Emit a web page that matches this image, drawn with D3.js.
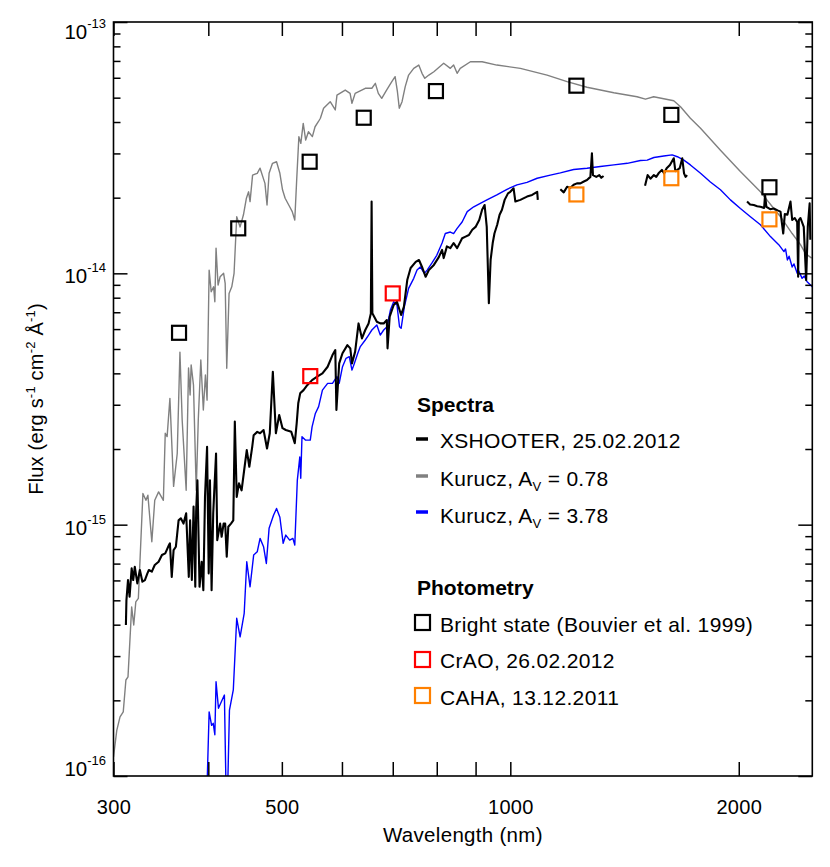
<!DOCTYPE html>
<html><head><meta charset="utf-8">
<script src="https://cdn.jsdelivr.net/npm/d3@7"></script>
<style>
body{margin:0;background:#fff}
svg text{font-family:"Liberation Sans",Arial,Helvetica,sans-serif;fill:#000}
</style>
</head><body>
<svg id="chart" width="830" height="867"></svg>
<script>
// ---------------- data ----------------
const xTickValues = [300,400,500,600,700,800,900,1000,2000];
const xTickLabels = {300:"300",500:"500",1000:"1000",2000:"2000"};
const yMajorTicks = [1e-16,1e-15,1e-14,1e-13];
const yMajorExponents = ["-16","-15","-14","-13"];
const yMinorTicks = [2e-16,3e-16,4e-16,5e-16,6e-16,7e-16,8e-16,9e-16,
                     2e-15,3e-15,4e-15,5e-15,6e-15,7e-15,8e-15,9e-15,
                     2e-14,3e-14,4e-14,5e-14,6e-14,7e-14,8e-14,9e-14];

// Kurucz model, A_V = 0.78 (wavelength nm, flux erg/s/cm2/A)
const kurucz078 = [[300,1.19e-16],[303,1.52e-16],[306,1.72e-16],[309,1.80e-16],[311.5,2.41e-16],[313.5,2.48e-16],[317,4.71e-16],[319,3.99e-16],[321,4.93e-16],[323.5,5.09e-16],[328,1.33e-15],[331,1.25e-15],[333,1.31e-15],[337,8.55e-16],[340,1.25e-15],[344,1.35e-15],[349,1.25e-15],[351,2.31e-15],[353,2.24e-15],[356,3.18e-15],[360,1.42e-15],[364,1.92e-15],[367,4.86e-15],[369.5,2.61e-15],[374,1.37e-15],[376.7,4.20e-15],[378.5,3.28e-15],[379.7,4.32e-15],[382.4,3.59e-15],[385.6,1.37e-15],[388,2.61e-15],[391,4.52e-15],[394,2.86e-15],[396.5,3.94e-15],[398.5,3.13e-15],[401,1.03e-14],[403.5,8.45e-15],[406.5,8.84e-15],[408,7.71e-15],[409.5,1.26e-14],[412,8.98e-15],[414.6,9.69e-15],[419,1.0e-14],[421,9.12e-15],[423,4.19e-15],[426,8.32e-15],[429.5,8.84e-15],[432.5,1.0e-14],[436,1.68e-14],[440.5,1.53e-14],[445,1.71e-14],[449,1.99e-14],[452,2.11e-14],[454,1.93e-14],[457.5,2.46e-14],[464,2.50e-14],[468,2.62e-14],[475,2.28e-14],[478,1.87e-14],[481,2.50e-14],[486,2.74e-14],[492,2.78e-14],[497,2.50e-14],[501,2.15e-14],[505,1.99e-14],[512,1.84e-14],[516,1.76e-14],[520,1.63e-14],[523,2.35e-14],[526.5,3.50e-14],[529.6,3.29e-14],[533.5,3.95e-14],[537.5,3.39e-14],[542,3.66e-14],[548.5,3.50e-14],[553,3.83e-14],[558.5,4.01e-14],[562,4.14e-14],[567.5,4.54e-14],[579,4.82e-14],[588,4.47e-14],[591,5.12e-14],[606,5.36e-14],[615,5.20e-14],[618.5,4.75e-14],[624.5,5.20e-14],[644,5.45e-14],[657,5.45e-14],[664,5.70e-14],[670,5.20e-14],[677,4.97e-14],[687,5.36e-14],[698,5.79e-14],[705,6.06e-14],[710,5.28e-14],[714,4.54e-14],[720,4.82e-14],[727,5.53e-14],[734.5,6.15e-14],[746,6.54e-14],[757.5,6.74e-14],[765,6.25e-14],[771.5,5.97e-14],[781,6.15e-14],[793,6.34e-14],[817,6.85e-14],[833.6,6.54e-14],[842,6.74e-14],[851,6.25e-14],[859,6.54e-14],[886,6.95e-14],[918,6.95e-14],[960,6.74e-14],[1031,6.54e-14],[1118,6.15e-14],[1188,5.79e-14],[1262,5.50e-14],[1369,5.23e-14],[1469,5.04e-14],[1507,4.93e-14],[1545,5.04e-14],[1642,4.86e-14],[1676,4.60e-14],[1727,4.14e-14],[1781,3.78e-14],[1892,3.09e-14],[2010,2.54e-14],[2136,2.11e-14],[2270,1.68e-14],[2352,1.44e-14],[2412,1.30e-14],[2448,1.20e-14],[2495,1.15e-14]];

// Kurucz model, A_V = 3.78
const kurucz378 = [[397,6.1e-17],[401,1.80e-16],[404,1.59e-16],[406,1.62e-16],[408,1.46e-16],[409.5,2.37e-16],[412.5,1.86e-16],[416,1.97e-16],[420,2.10e-16],[423,6.1e-17],[426.5,1.83e-16],[431.5,2.20e-16],[436,4.24e-16],[440.5,3.58e-16],[446,4.44e-16],[449.5,7.12e-16],[454,5.66e-16],[459,7.57e-16],[464,7.80e-16],[468,8.82e-16],[473,8.17e-16],[477,7.01e-16],[481,9.67e-16],[487.5,1.09e-15],[492,1.16e-15],[497,1.07e-15],[502,8.43e-16],[506,9.09e-16],[512,8.68e-16],[517,8.82e-16],[520,8.30e-16],[524,1.50e-15],[528,1.86e-15],[529.5,1.53e-15],[531.5,2.24e-15],[537,2.17e-15],[545,2.17e-15],[548,2.45e-15],[553.5,2.77e-15],[559,2.95e-15],[565.5,3.43e-15],[574.5,3.65e-15],[583,3.65e-15],[591,3.88e-15],[595,3.65e-15],[601,4.25e-15],[607.5,4.59e-15],[613.5,4.66e-15],[618.5,4.12e-15],[623,4.38e-15],[629.5,4.81e-15],[634.4,5.11e-15],[644,5.43e-15],[650.5,5.68e-15],[657,5.95e-15],[667,6.23e-15],[674,5.68e-15],[681,5.95e-15],[688,6.13e-15],[695,7.14e-15],[702,7.71e-15],[709,7.48e-15],[714.5,6.13e-15],[718,6.04e-15],[725,7.36e-15],[734.5,8.71e-15],[746,9.55e-15],[753.5,1.03e-14],[761,1.06e-14],[770.5,1.00e-14],[777,1.03e-14],[788.5,1.10e-14],[800,1.18e-14],[813,1.32e-14],[821,1.44e-14],[833.6,1.46e-14],[842,1.44e-14],[851,1.51e-14],[864,1.60e-14],[877.5,1.76e-14],[895,1.84e-14],[913,1.90e-14],[931.5,1.96e-14],[960,2.05e-14],[990,2.16e-14],[1020.5,2.25e-14],[1052,2.30e-14],[1085,2.39e-14],[1129,2.46e-14],[1164,2.51e-14],[1212,2.59e-14],[1262,2.62e-14],[1314,2.66e-14],[1369,2.70e-14],[1426,2.74e-14],[1484,2.81e-14],[1515,2.82e-14],[1546,2.89e-14],[1593,2.93e-14],[1634,2.96e-14],[1660,2.91e-14],[1693,2.82e-14],[1727,2.70e-14],[1781,2.50e-14],[1835,2.31e-14],[1892,2.15e-14],[1950,1.96e-14],[2010,1.81e-14],[2072,1.68e-14],[2136,1.56e-14],[2202,1.40e-14],[2258,1.30e-14],[2294,1.22e-14],[2305,1.25e-14],[2318,1.13e-14],[2330,1.17e-14],[2352,1.06e-14],[2365,1.09e-14],[2388,1.00e-14],[2400,1.02e-14],[2424,9.55e-15],[2440,9.75e-15],[2461,9.26e-15],[2500,8.84e-15]];

// XSHOOTER spectrum, 25.02.2012 (four segments)
const xshooterUvbVis = [[311.5,3.99e-16],[312,5.01e-16],[313.5,6.02e-16],[315,5.17e-16],[317,6.70e-16],[318.5,6.02e-16],[320,6.80e-16],[322.5,5.84e-16],[325,6.60e-16],[327.5,5.93e-16],[330,6.02e-16],[332.5,6.40e-16],[334,6.60e-16],[337,6.50e-16],[340,6.91e-16],[344,7.12e-16],[347.5,7.57e-16],[351,7.69e-16],[355,8.30e-16],[356,8.43e-16],[358,6.20e-16],[360,7.92e-16],[362.5,8.17e-16],[365.5,1.04e-15],[368,1.06e-15],[371,1.01e-15],[374,1.11e-15],[377,6.20e-16],[378.5,1.04e-15],[380.5,6.02e-16],[382.5,1.18e-15],[384.5,5.66e-16],[385.5,1.13e-15],[387,1.50e-15],[389.5,5.66e-16],[392,7.12e-16],[394,5.49e-16],[396,1.29e-15],[398.5,2.04e-15],[400.5,6.40e-16],[402,1.50e-15],[404,5.49e-16],[406,1.11e-15],[409.5,1.92e-15],[411,8.68e-16],[414.6,1.01e-15],[416.5,8.95e-16],[419,1.01e-15],[421,1.01e-15],[423,7.45e-16],[425,9.81e-16],[428.5,1.01e-15],[431.5,1.04e-15],[433.5,2.57e-15],[436,1.29e-15],[439,1.46e-15],[442.5,1.37e-15],[446,1.65e-15],[449.5,1.98e-15],[453,1.70e-15],[457,2.04e-15],[459,2.27e-15],[464,2.34e-15],[468,2.31e-15],[473,2.38e-15],[478,2.01e-15],[482,2.31e-15],[486.5,4.06e-15],[491,2.31e-15],[496,2.73e-15],[501,2.42e-15],[506,2.38e-15],[514.5,2.34e-15],[520,2.11e-15],[523,2.53e-15],[525.5,3.04e-15],[528.6,3.33e-15],[534,3.43e-15],[540,3.59e-15],[548,3.76e-15],[556.5,3.88e-15],[565.5,4.00e-15],[574.5,4.25e-15],[583,4.73e-15],[588,4.95e-15],[590,2.86e-15],[595,4.38e-15],[601,4.81e-15],[610,5.18e-15],[615.4,5.03e-15],[618.5,4.38e-15],[624.5,4.88e-15],[631,6.32e-15],[637.5,5.51e-15],[644,5.95e-15],[650.5,6.32e-15],[655,6.93e-15],[656.5,1.93e-14],[658,6.93e-15],[667,6.42e-15],[674,6.32e-15],[681,6.32e-15],[687.5,6.52e-15],[689,5.03e-15],[693.5,6.72e-15],[702,7.48e-15],[709,7.71e-15],[718,6.83e-15],[724,7.36e-15],[731.5,9.40e-15],[739,1.05e-14],[750.5,1.11e-14],[758,1.13e-14],[766,1.05e-14],[773.5,9.69e-15],[781,1.03e-14],[793,1.08e-14],[805,1.16e-14],[813,1.24e-14],[817,1.15e-14],[825,1.28e-14],[833.6,1.26e-14],[842,1.32e-14],[851,1.26e-14],[864,1.38e-14],[873,1.40e-14],[882,1.42e-14],[891,1.49e-14],[900,1.53e-14],[910,1.63e-14],[918,1.79e-14],[925,1.87e-14],[931,1.53e-14],[937,7.60e-15],[942,1.13e-14],[948,1.32e-14],[953,1.44e-14],[961,1.56e-14],[968,1.71e-14],[975,1.79e-14],[983,1.96e-14],[993,2.08e-14],[1000,2.11e-14],[1010,2.18e-14],[1015.5,1.93e-14],[1031,1.96e-14],[1052,2.02e-14],[1068.5,2.05e-14],[1085,2.11e-14],[1087,1.96e-14]];
const xshooterJ = [[1164,2.16e-14],[1176,2.10e-14],[1188,2.21e-14],[1200,2.19e-14],[1212,2.25e-14],[1224,2.28e-14],[1237,2.28e-14],[1250,2.32e-14],[1262,2.35e-14],[1275,2.42e-14],[1281,3.00e-14],[1285,2.46e-14],[1298,2.42e-14],[1310,2.46e-14],[1318,2.40e-14],[1327,2.44e-14]];
const xshooterH = [[1505,2.23e-14],[1517,2.46e-14],[1530,2.38e-14],[1546,2.46e-14],[1557,2.42e-14],[1568,2.50e-14],[1584,2.58e-14],[1595,2.50e-14],[1607,2.62e-14],[1623,2.70e-14],[1642,2.87e-14],[1650,2.55e-14],[1660,2.58e-14],[1672,2.62e-14],[1685,2.87e-14],[1694,2.50e-14],[1702,2.42e-14],[1710,2.46e-14]];
const xshooterK = [[2051,1.93e-14],[2070,1.88e-14],[2093,1.87e-14],[2115,1.85e-14],[2136,1.84e-14],[2160,1.82e-14],[2166,2.05e-14],[2175,1.84e-14],[2200,1.80e-14],[2224,1.81e-14],[2250,1.78e-14],[2270,1.76e-14],[2289,1.44e-14],[2300,1.72e-14],[2318,1.71e-14],[2340,1.93e-14],[2352,1.63e-14],[2370,1.66e-14],[2388,1.60e-14],[2395,9.69e-15],[2400,1.63e-14],[2412,1.66e-14],[2436,1.53e-14],[2454,9.40e-15],[2466,1.53e-14],[2480,1.90e-14],[2485,1.36e-14]];

// Photometry (wavelength nm, flux)
const brightState = [[366,5.80e-15],[438,1.51e-14],[544,2.78e-14],[641,4.16e-14],[798,5.31e-14],[1222,5.58e-14],[1630,4.27e-14],[2195,2.20e-14]];
const crao = [[545,3.90e-15],[700,8.32e-15]];
const caha = [[1222,2.06e-14],[1630,2.39e-14],[2195,1.64e-14]];

// ---------------- drawing ----------------
const X0 = 113.5, X1 = 812.3, Y0 = 776, Y1 = 22;
const svg = d3.select("#chart");
const x = d3.scaleLog().domain([300,2500]).range([X0,X1]);
const y = d3.scaleLog().domain([1e-16,1e-13]).range([Y0,Y1]);

svg.append("defs").append("clipPath").attr("id","plotclip")
  .append("rect").attr("x",X0).attr("y",Y1).attr("width",X1-X0).attr("height",Y0-Y1);

const line = d3.line().x(d=>x(d[0])).y(d=>y(d[1]));
const plot = svg.append("g").attr("clip-path","url(#plotclip)");

plot.append("path").datum(kurucz078).attr("d",line)
  .attr("fill","none").attr("stroke","#808080").attr("stroke-width",1.4).attr("stroke-linejoin","round");
plot.append("path").datum(kurucz378).attr("d",line)
  .attr("fill","none").attr("stroke","#0000ff").attr("stroke-width",1.4).attr("stroke-linejoin","round");
[xshooterUvbVis,xshooterJ,xshooterH,xshooterK].forEach(seg=>{
  plot.append("path").datum(seg).attr("d",line)
    .attr("fill","none").attr("stroke","#000").attr("stroke-width",2.1).attr("stroke-linejoin","round");
});

const sq = 14;
function squares(data,color){
  plot.selectAll(null).data(data).enter().append("rect")
    .attr("x",d=>x(d[0])-sq/2).attr("y",d=>y(d[1])-sq/2)
    .attr("width",sq).attr("height",sq)
    .attr("fill","none").attr("stroke",color).attr("stroke-width",2.2);
}
squares(brightState,"#000");
squares(crao,"#ff0000");
squares(caha,"#ff8000");

// axes
function styleAxis(g){
  g.select(".domain").remove();
  g.selectAll(".tick line").attr("stroke","#000").attr("stroke-width",1.5);
  g.attr("font-family",null).attr("font-size",null);
}
const gB = svg.append("g").attr("transform",`translate(0,${Y0})`)
  .call(d3.axisBottom(x).tickValues(xTickValues).tickSize(-14).tickPadding(24)
  .tickFormat(d=>xTickLabels[d]||""));
styleAxis(gB);
gB.selectAll("text").attr("font-size",20).attr("fill","#000").attr("letter-spacing",0.3);
const gT = svg.append("g").attr("transform",`translate(0,${Y1})`)
  .call(d3.axisTop(x).tickValues(xTickValues).tickSize(-14).tickFormat(""));
styleAxis(gT);

const gL = svg.append("g").attr("transform",`translate(${X0},0)`)
  .call(d3.axisLeft(y).tickValues(yMajorTicks).tickSize(-14).tickFormat(""));
styleAxis(gL);
const gLm = svg.append("g").attr("transform",`translate(${X0},0)`)
  .call(d3.axisLeft(y).tickValues(yMinorTicks).tickSize(-7).tickFormat(""));
styleAxis(gLm);
const gR = svg.append("g").attr("transform",`translate(${X1},0)`)
  .call(d3.axisRight(y).tickValues(yMajorTicks).tickSize(-14).tickFormat(""));
styleAxis(gR);
const gRm = svg.append("g").attr("transform",`translate(${X1},0)`)
  .call(d3.axisRight(y).tickValues(yMinorTicks).tickSize(-7).tickFormat(""));
styleAxis(gRm);

svg.append("rect").attr("x",X0).attr("y",Y1).attr("width",X1-X0).attr("height",Y0-Y1)
  .attr("fill","none").attr("stroke","#000").attr("stroke-width",1.6);

// y tick labels 10^n
yMajorTicks.forEach((v,i)=>{
  const by = Math.max(Y1+17, Math.min(Y0, y(v)+10));
  const t = svg.append("text").attr("x",106).attr("y",by).attr("text-anchor","end").attr("font-size",20.5);
  t.append("tspan").text("10");
  t.append("tspan").attr("dy",-11).attr("font-size",13).text(yMajorExponents[i]);
});

// axis titles
svg.append("text").attr("x",(X0+X1)/2).attr("y",842).attr("text-anchor","middle")
  .attr("font-size",20.5).attr("letter-spacing",0.3).text("Wavelength (nm)");
const yt = svg.append("text").attr("transform",`translate(43,${(Y0+Y1)/2}) rotate(-90)`)
  .attr("text-anchor","middle").attr("font-size",20).attr("letter-spacing",0.2);
yt.append("tspan").text("Flux (erg s");
yt.append("tspan").attr("dy",-8).attr("font-size",13).text("-1");
yt.append("tspan").attr("dy",8).text(" cm");
yt.append("tspan").attr("dy",-8).attr("font-size",13).text("-2");
yt.append("tspan").attr("dy",8).text(" Å");
yt.append("tspan").attr("dy",-8).attr("font-size",13).text("-1");
yt.append("tspan").attr("dy",8).text(")");

// legend
const legend = svg.append("g");
legend.append("text").attr("x",417).attr("y",412).attr("font-size",21).attr("font-weight","bold").text("Spectra");
const specItems = [
  {color:"#000", label:["XSHOOTER, 25.02.2012"], ly:439, ty:448},
  {color:"#808080", label:["Kurucz, A","V"," = 0.78"], ly:476, ty:486},
  {color:"#0000ff", label:["Kurucz, A","V"," = 3.78"], ly:512, ty:523}
];
specItems.forEach(it=>{
  legend.append("line").attr("x1",416).attr("x2",428).attr("y1",it.ly).attr("y2",it.ly)
    .attr("stroke",it.color).attr("stroke-width",3.5);
  const t = legend.append("text").attr("x",440).attr("y",it.ty).attr("font-size",21).attr("letter-spacing",0.3);
  t.append("tspan").text(it.label[0]);
  if(it.label.length>1){
    t.append("tspan").attr("dy",5).attr("font-size",13).text(it.label[1]);
    t.append("tspan").attr("dy",-5).text(it.label[2].replace(" = ","  =  "));
  }
});
legend.append("text").attr("x",417).attr("y",595).attr("font-size",21).attr("font-weight","bold").text("Photometry");
const photItems = [
  {color:"#000", label:"Bright state (Bouvier et al. 1999)", cy:622.5, ty:632},
  {color:"#ff0000", label:"CrAO, 26.02.2012", cy:659.5, ty:668},
  {color:"#ff8000", label:"CAHA, 13.12.2011", cy:695.5, ty:705}
];
photItems.forEach(it=>{
  legend.append("rect").attr("x",415).attr("y",it.cy-7.5).attr("width",15).attr("height",15)
    .attr("fill","none").attr("stroke",it.color).attr("stroke-width",2.2);
  legend.append("text").attr("x",440).attr("y",it.ty).attr("font-size",21).attr("letter-spacing",0.35).text(it.label);
});
</script>
</body></html>
